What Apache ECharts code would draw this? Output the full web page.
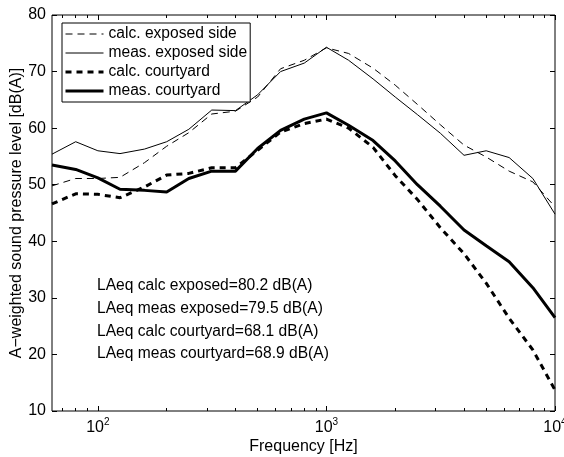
<!DOCTYPE html>
<html>
<head>
<meta charset="utf-8">
<script src="https://cdn.jsdelivr.net/npm/echarts@6/dist/echarts.min.js"></script>
<style>html,body{margin:0;padding:0;background:#fff}#c{width:564px;height:457px}</style>
</head>
<body>
<div id="c"></div>
<script>
const freqs = [63,80,100,125,160,200,250,315,400,500,630,800,1000,1250,1600,2000,2500,3150,4000,5000,6300,8000,10000];
const calcExposed = [49.8,51.1,51.1,51.3,53.9,56.8,59.2,62.5,63.0,65.5,70.5,72.0,74.2,73.2,70.6,67.6,64.2,60.6,57.0,54.9,52.4,50.5,46.1];
const measExposed = [55.4,57.6,56.0,55.5,56.3,57.6,59.8,63.2,63.1,65.9,70.0,71.5,74.3,72.0,68.7,65.5,62.4,59.1,55.2,56.0,54.8,51.1,44.8];
const calcCourtyard = [46.6,48.4,48.3,47.7,49.6,51.7,52.0,53.0,53.0,56.1,59.3,60.8,61.6,60.0,56.6,51.6,47.4,42.4,37.8,32.6,26.4,20.8,13.7];
const measCourtyard = [53.5,52.7,51.2,49.2,49.0,48.7,51.1,52.4,52.4,56.4,59.6,61.6,62.7,60.5,57.8,54.2,50.0,46.2,42.0,39.2,36.4,31.8,26.5];
const seriesNames = ['calc. exposed side','meas. exposed side','calc. courtyard','meas. courtyard'];
const majorTicks = [100,1000,10000];
const minorTicks = [70,80,90,200,300,400,500,600,700,800,900,2000,3000,4000,5000,6000,7000,8000,9000];
const annotations = ['LAeq calc exposed=80.2 dB(A)','LAeq meas exposed=79.5 dB(A)','LAeq calc courtyard=68.1 dB(A)','LAeq meas courtyard=68.9 dB(A)'];

const FONT = 'Liberation Sans, Arial, Helvetica, sans-serif';
const FS = 15.6;
const xMin = 63, xMax = 10000;

function pairs(vals){ return freqs.map((f,i)=>[f, vals[i]]); }

function xAxisDef(pos, ticks, len, showLabel){
  return {
    type:'log', logBase:10, min:xMin, max:xMax, position:pos,
    axisLine:{show:false},
    splitLine:{show:false},
    axisTick:{show:true, inside:true, length:len, customValues:ticks, lineStyle:{color:'#000',width:1}},
    axisLabel:{show:showLabel, customValues:majorTicks, margin:6, hideOverlap:false,
      formatter:function(v){ return '{b|10}{s|' + Math.round(Math.log10(v)) + '}'; },
      rich:{ b:{fontSize:16, fontFamily:FONT, color:'#000', verticalAlign:'bottom'},
             s:{fontSize:10, fontFamily:FONT, color:'#000', verticalAlign:'bottom', padding:[0,0,9,0]} } },
    name: showLabel ? 'Frequency [Hz]' : '',
    nameLocation:'middle', nameGap:28, nameMoveOverlap:false,
    nameTextStyle:{fontSize:16, fontFamily:FONT, color:'#000'}
  };
}

const lineDefs = [
  {name:seriesNames[0], data:calcExposed, width:1, type:[7,5]},
  {name:seriesNames[1], data:measExposed, width:1, type:'solid'},
  {name:seriesNames[2], data:calcCourtyard, width:3, type:[6,5]},
  {name:seriesNames[3], data:measCourtyard, width:3, type:'solid'}
];

const option = {
  animation:false,
  backgroundColor:'#fff',
  grid:{left:52, right:9, top:15, bottom:46, outerBoundsMode:'none', containLabel:false,
        show:true, borderColor:'#000', borderWidth:1, backgroundColor:'transparent'},
  xAxis:[
    xAxisDef('bottom', majorTicks, 5, true),
    xAxisDef('bottom', minorTicks, 3, false),
    xAxisDef('top', majorTicks, 5, false),
    xAxisDef('top', minorTicks, 3, false)
  ],
  yAxis:[
    {type:'value', min:10, max:80, interval:10, position:'left',
     axisLine:{show:false}, splitLine:{show:false},
     axisTick:{show:true, inside:true, length:5, lineStyle:{color:'#000'}},
     axisLabel:{color:'#000', fontSize:16, fontFamily:FONT, margin:6},
     name:'A\u2212weighted sound pressure level [dB(A)]', nameLocation:'middle', nameGap:27, nameRotate:90,
     nameMoveOverlap:false,
     nameTextStyle:{fontSize:16, fontFamily:FONT, color:'#000'}},
    {type:'value', min:10, max:80, interval:10, position:'right',
     axisLine:{show:false}, splitLine:{show:false},
     axisTick:{show:true, inside:true, length:5, lineStyle:{color:'#000'}},
     axisLabel:{show:false}}
  ],
  legend:{
    orient:'vertical', left:62, top:23,
    backgroundColor:'#fff', borderColor:'#000', borderWidth:1, borderRadius:0,
    padding:[3,3,3,2], itemGap:3, itemWidth:38, itemHeight:16,
    itemStyle:{opacity:0},
    textStyle:{fontSize:FS, fontFamily:FONT, color:'#000', lineHeight:16},
    data: lineDefs.map(d=>({name:d.name, itemStyle:{opacity:0},
      lineStyle:{color:'#000', width:d.width, type:d.type}}))
  },
  graphic: annotations.map((t,i)=>({
    type:'text', left:97, top:287 + i*22.7 - 9,
    style:{text:t, fontSize:FS, fontFamily:FONT, fill:'#000'}
  })),
  series: lineDefs.map(d=>({
    name:d.name, type:'line', xAxisIndex:0, yAxisIndex:0,
    data:pairs(d.data), symbol:'none', smooth:false, clip:true,
    lineStyle:{color:'#000', width:d.width, type:d.type},
    itemStyle:{color:'#000'}
  }))
};

const chart = echarts.init(document.getElementById('c'), null, {renderer:'canvas'});
chart.setOption(option);
</script>
</body>
</html>
